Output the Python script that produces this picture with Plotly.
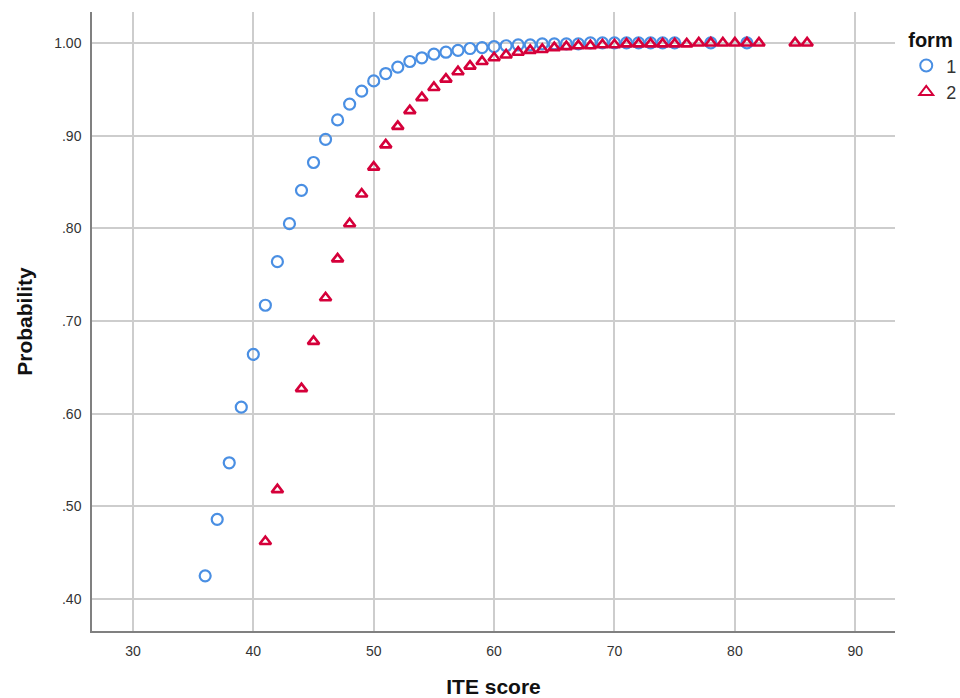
import plotly.graph_objects as go

# ---- data ----
form1_x = [36, 37, 38, 39, 40, 41, 42, 43, 44, 45, 46, 47, 48, 49, 50, 51, 52, 53, 54, 55,
           56, 57, 58, 59, 60, 61, 62, 63, 64, 65, 66, 67, 68, 69, 70, 71, 72, 73, 74, 75,
           78, 81]
form1_p = [0.425, 0.486, 0.547, 0.607, 0.664, 0.717, 0.764, 0.805, 0.841, 0.871,
           0.896, 0.917, 0.934, 0.948, 0.959, 0.967, 0.974, 0.980, 0.984, 0.988,
           0.990, 0.992, 0.994, 0.995, 0.996, 0.997, 0.998, 0.998, 0.999, 0.999,
           0.999, 0.999, 1.000, 1.000, 1.000, 1.000, 1.000, 1.000, 1.000, 1.000,
           1.000, 1.000]

form2_x = [41, 42, 44, 45, 46, 47, 48, 49, 50, 51, 52, 53, 54, 55, 56, 57, 58, 59, 60, 61,
           62, 63, 64, 65, 66, 67, 68, 69, 70, 71, 72, 73, 74, 75, 76, 77, 78, 79, 80, 81,
           82, 85, 86]
form2_p = [0.462, 0.518, 0.627, 0.678, 0.725, 0.767, 0.805, 0.837, 0.866, 0.890,
           0.910, 0.927, 0.941, 0.952, 0.961, 0.969, 0.975, 0.980, 0.984, 0.987,
           0.990, 0.992, 0.993, 0.995, 0.996, 0.997, 0.997, 0.998, 0.998, 0.999,
           0.999, 0.999, 0.999, 0.999, 0.999, 1.000, 1.000, 1.000, 1.000, 1.000,
           1.000, 1.000, 1.000]

x_ticks = [30, 40, 50, 60, 70, 80, 90]
y_ticks = [0.40, 0.50, 0.60, 0.70, 0.80, 0.90, 1.00]
y_tick_text = [".40", ".50", ".60", ".70", ".80", ".90", "1.00"]

BLUE = "#4A8FE3"
RED = "#D5003A"
SANS = "Liberation Sans, Arial, sans-serif"

fig = go.Figure()
fig.add_trace(go.Scatter(
    x=form1_x, y=form1_p, mode="markers", name="1",
    marker=dict(symbol="circle-open", size=11, color=BLUE, line=dict(width=2.2, color=BLUE)),
))
fig.add_trace(go.Scatter(
    x=form2_x, y=form2_p, mode="markers", name="2",
    marker=dict(symbol="triangle-up-open", size=10, color=RED, line=dict(width=2.6, color=RED)),
))

fig.update_layout(
    width=960, height=698,
    margin=dict(l=92, r=65, t=12, b=67, autoexpand=False),
    paper_bgcolor="white", plot_bgcolor="white",
    font=dict(family=SANS, color="#222222"),
    showlegend=True,
    legend=dict(
        title=dict(text="<b>form</b>", font=dict(size=20, family=SANS, color="#111111")),
        x=1.014, xanchor="left", y=0.985, yanchor="top",
        font=dict(size=18, family=SANS, color="#333333"),
        itemsizing="constant", tracegroupgap=0,
    ),
    xaxis=dict(
        range=[26.6, 93.3], tickvals=x_ticks,
        showgrid=True, gridcolor="#CDCDCD", gridwidth=1.5,
        showline=True, linecolor="#808080", linewidth=1.5,
        zeroline=False,
        ticks="outside", ticklen=6, tickcolor="rgba(0,0,0,0)",
        tickfont=dict(size=14, family=SANS, color="#333333"),
        title=dict(text="<b>ITE score</b>", standoff=24,
                   font=dict(size=21, family=SANS, color="#111111")),
    ),
    yaxis=dict(
        range=[0.3655, 1.0334], tickvals=y_ticks, ticktext=y_tick_text,
        showgrid=True, gridcolor="#CDCDCD", gridwidth=1.5,
        showline=True, linecolor="#808080", linewidth=1.5,
        zeroline=False,
        ticks="outside", ticklen=6, tickcolor="rgba(0,0,0,0)",
        tickfont=dict(size=14, family=SANS, color="#333333"),
        title=dict(text="<b>Probability</b>", standoff=16,
                   font=dict(size=21, family=SANS, color="#111111")),
    ),
)

fig.write_html("out.html")
